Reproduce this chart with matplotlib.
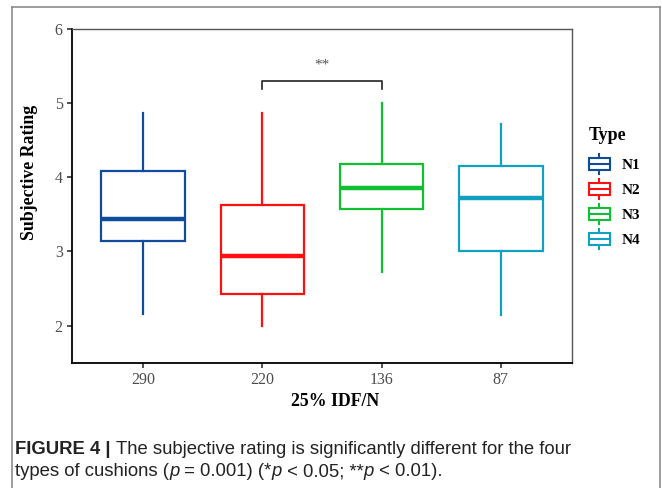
import matplotlib
matplotlib.use("Agg")
import matplotlib.pyplot as plt
from matplotlib import font_manager
from matplotlib.lines import Line2D
from matplotlib.patches import Patch, Rectangle
from matplotlib.legend_handler import HandlerBase

# data (five-number summaries per cushion type)
types = ["N1", "N2", "N3", "N4"]
idf_labels = ["290", "220", "136", "87"]
whisker_low = [2.15, 2.00, 2.72, 2.14]
q1 = [3.14, 2.43, 3.57, 3.01]
medians = [3.44, 2.94, 3.86, 3.72]
q3 = [4.08, 3.62, 4.18, 4.15]
whisker_high = [4.86, 4.86, 5.00, 4.72]
colors = ["#0F4C9C", "#FF1010", "#10C030", "#12A0C0"]

sig_pair = (2, 3)
sig_y = 5.30
sig_text = "**"

caption_lines = [
    [("FIGURE 4 | ", "bold"), ("The subjective rating is significantly different for the four", "normal")],
    [("types of cushions (", "normal"), ("p", "italic"), (" = 0.001) (*", "normal"), ("p", "italic"),
     (" < 0.05; **", "normal"), ("p", "italic"), (" < 0.01).", "normal")],
]

W, H = 662, 488
fig = plt.figure(figsize=(W / 100, H / 100), dpi=100)
SERIF = "Liberation Serif"

# outer grey frame (open at the bottom)
frame = dict(color="#8c8c8c", lw=1.2, transform=fig.transFigure)
fig.add_artist(Line2D([12 / W, 12 / W], [0, 1 - 7 / H], **frame))
fig.add_artist(Line2D([12 / W, 660 / W], [1 - 7 / H, 1 - 7 / H], **frame))
fig.add_artist(Line2D([660 / W, 660 / W], [0, 1 - 7 / H], **frame))

ax = fig.add_axes([71.7 / W, 1 - 362.7 / H, 500.6 / W, 334 / H])

positions = list(range(1, len(types) + 1))
for i, t in enumerate(types):
    s = dict(label=t, whislo=whisker_low[i], q1=q1[i], med=medians[i],
             q3=q3[i], whishi=whisker_high[i], fliers=[])
    c = colors[i]
    ax.bxp([s], positions=[positions[i]], widths=0.7, showcaps=False, patch_artist=True,
           boxprops=dict(facecolor="white", edgecolor=c, linewidth=1.6),
           whiskerprops=dict(color=c, linewidth=1.6),
           medianprops=dict(color=c, linewidth=3.2, solid_capstyle="butt"))

# significance bracket
x1, x2 = sig_pair
ax.plot([x1, x1, x2, x2], [sig_y - 0.11, sig_y, sig_y, sig_y - 0.11],
        color="#222222", lw=1.2)
ax.text((x1 + x2) / 2, sig_y + 0.12, sig_text, ha="center", va="bottom",
        family=SERIF, fontsize=11, color="#555555")

ax.set_xlim(0.4, 4.6)
ax.set_ylim(1.5, 6)
ax.set_xticks(positions)
ax.set_xticklabels(idf_labels)
ax.set_yticks([2, 3, 4, 5, 6])

for side in ["left", "bottom"]:
    ax.spines[side].set_color("black")
    ax.spines[side].set_linewidth(1.3)
for side in ["top", "right"]:
    ax.spines[side].set_color("#555555")
    ax.spines[side].set_linewidth(1.0)

ax.tick_params(axis="both", length=3.5, width=1.2, color="#333333",
               labelcolor="#4d4d4d", labelsize=11.5, pad=3)
for lab in ax.get_xticklabels() + ax.get_yticklabels():
    lab.set_family(SERIF)

ax.set_xlabel("25% IDF/N", family=SERIF, fontweight="bold", fontsize=12.8)
ax.set_ylabel("Subjective Rating", family=SERIF, fontweight="bold", fontsize=12.8)
ax.xaxis.set_label_coords((335 - 71.7) / 500.6, -(393 - 362.7) / 334)
ax.yaxis.set_label_coords(-(71.7 - 38) / 500.6, (362.7 - 172) / 334)


class BoxHandler(HandlerBase):
    def create_artists(self, legend, orig_handle, xdescent, ydescent,
                       width, height, fontsize, trans):
        c = orig_handle.get_edgecolor()
        cx = width / 2 - xdescent
        cy = height / 2 - ydescent
        bw, bh = width * 0.95, height * 0.75
        box = Rectangle((cx - bw / 2, cy - bh / 2), bw, bh, facecolor="white",
                        edgecolor=c, lw=1.5, transform=trans)
        whisk = Line2D([cx, cx], [cy - height * 0.63, cy + height * 0.63],
                       color=c, lw=1.5, transform=trans)
        med = Line2D([cx - bw / 2, cx + bw / 2], [cy, cy], color=c, lw=1.5,
                     transform=trans)
        return [whisk, box, med]


# legend title as separate text, entries below it
fig.text(589 / W, 1 - 135 / H, "Type", family=SERIF, fontweight="bold",
         fontsize=13, va="center", ha="left")
handles = [Patch(edgecolor=c, facecolor="white") for c in colors]
leg = fig.legend(handles, types, handler_map={Patch: BoxHandler()},
                 loc="upper left", bbox_to_anchor=(588 / W, 1 - 156 / H), frameon=False,
                 handlelength=1.45, handleheight=1.25, handletextpad=0.75,
                 labelspacing=0.58, borderpad=0, borderaxespad=0,
                 prop=dict(family=SERIF, weight="bold", size=11))

# caption, drawn run by run
try:
    font_manager.findfont("Liberation Sans Narrow", fallback_to_default=False)
    cap_family = "Liberation Sans Narrow"
except ValueError:
    cap_family = "Liberation Sans"

renderer = fig.canvas.get_renderer()
probe = fig.text(0, 0, "".join(t for t, _ in caption_lines[0]), fontsize=10,
                 family=cap_family, fontweight="normal")
w10 = probe.get_window_extent(renderer).width
probe.remove()
cap_size = 10 * (558 / w10)

for k, runs in enumerate(caption_lines):
    x = 15
    y = 450 + k * 22
    for txt, style in runs:
        t = fig.text(x / W, 1 - y / H, txt, fontsize=cap_size, va="center", ha="left",
                     family=cap_family, color="#222222",
                     fontweight="bold" if style == "bold" else "normal",
                     fontstyle="italic" if style == "italic" else "normal")
        x += t.get_window_extent(renderer).width

fig.savefig("out.png", dpi=100)
